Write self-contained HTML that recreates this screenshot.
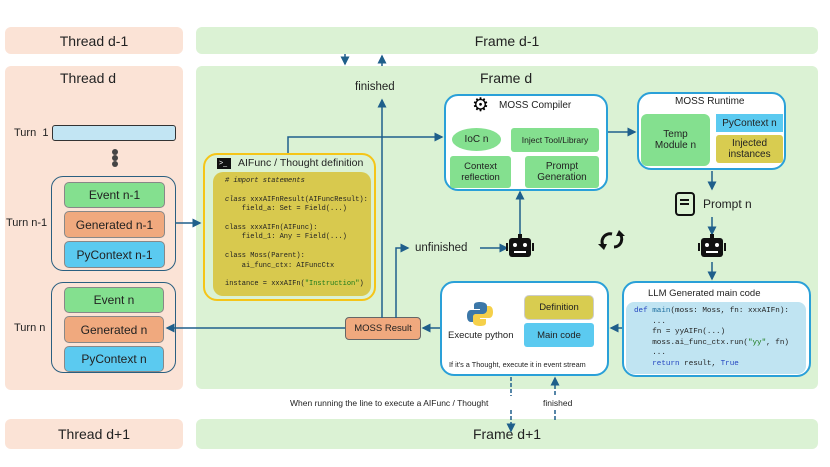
<!DOCTYPE html>
<html><head><meta charset="utf-8"><style>
body{margin:0;width:830px;height:467px;background:#fff;position:relative;overflow:hidden;font-family:"Liberation Sans",sans-serif;color:#222}
.a{position:absolute;box-sizing:border-box}
.c{display:flex;align-items:center;justify-content:center;text-align:center}
.th{background:#fbe3d6;border-radius:6px}
.fr{background:#dbf2d4;border-radius:6px}
.blk{border:1.5px solid #888;border-radius:5px;font-size:12px}
.g{background:#84e08f}.o{background:#f0a97e}.b{background:#5bcaf0}.y{background:#d8cc50}
.wb{background:#fff;border:2px solid #2aa0d8;border-radius:14px}
pre{margin:0;font-family:"Liberation Mono",monospace}
</style></head><body>
<div class="a th c" style="left:5px;top:27px;width:178px;height:27px;font-size:14px">Thread d-1</div>
<div class="a fr c" style="left:196px;top:27px;width:622px;height:27px;font-size:14px">Frame d-1</div>
<div class="a th" style="left:5px;top:66px;width:178px;height:324px"></div>
<div class="a fr" style="left:196px;top:66px;width:622px;height:323px"></div>
<div class="a th c" style="left:5px;top:419px;width:178px;height:30px;font-size:14px">Thread d+1</div>
<div class="a fr c" style="left:196px;top:419px;width:622px;height:30px;font-size:14px">Frame d+1</div>
<div class="a" style="left:60px;top:70px;font-size:14px">Thread d</div>
<div class="a" style="left:480px;top:70px;font-size:14px">Frame d</div>

<div class="a" style="left:14px;top:127px;font-size:11px">Turn&nbsp; 1</div>
<div class="a" style="left:52px;top:125px;width:124px;height:16px;background:#c2e5f3;border:1.5px solid #333;border-radius:3px"></div>
<div class="a" style="left:112px;top:149px;width:6px;height:6px;border-radius:3px;background:#444;box-shadow:0 6px 0 #444,0 12px 0 #444"></div>
<div class="a" style="left:6px;top:217px;font-size:11px">Turn n-1</div>
<div class="a" style="left:51px;top:176px;width:125px;height:95px;border:1.5px solid #2a5f80;border-radius:12px"></div>
<div class="a blk g c" style="left:64px;top:182px;width:101px;height:26px">Event n-1</div>
<div class="a blk o c" style="left:64px;top:211px;width:101px;height:27px">Generated n-1</div>
<div class="a blk b c" style="left:64px;top:241px;width:101px;height:27px">PyContext n-1</div>
<div class="a" style="left:14px;top:322px;font-size:11px">Turn n</div>
<div class="a" style="left:51px;top:282px;width:125px;height:91px;border:1.5px solid #2a5f80;border-radius:12px"></div>
<div class="a blk g c" style="left:64px;top:287px;width:100px;height:26px">Event n</div>
<div class="a blk o c" style="left:64px;top:316px;width:100px;height:27px">Generated n</div>
<div class="a blk b c" style="left:64px;top:346px;width:100px;height:26px">PyContext n</div>

<!-- AIFunc -->
<div class="a" style="left:203px;top:153px;width:173px;height:148px;border:2px solid #f5c518;border-radius:14px;background:#dbf2d4"></div>
<div class="a" style="left:217px;top:158px;width:14px;height:11px;background:#111;color:#fff;font-size:7px;line-height:11px;padding-left:2px">&gt;_</div>
<div class="a" style="left:238px;top:157px;font-size:10.5px">AIFunc / Thought definition</div>
<div class="a" style="left:213px;top:172px;width:158px;height:124px;background:#d8c94e;border-radius:10px;padding:5px 0 0 12px">
<pre style="font-size:7px;line-height:9.4px"><i># import statements</i>

<i>class</i> xxxAIFnResult(AIFuncResult):
    field_a: Set = Field(...)

class xxxAIFn(AIFunc):
    field_1: Any = Field(...)

class Moss(Parent):
    ai_func_ctx: AIFuncCtx

instance = xxxAIFn(<span style="color:#1a7a1a">"Instruction"</span>)</pre></div>

<!-- compiler -->
<div class="a wb" style="left:444px;top:94px;width:164px;height:97px"></div>
<div class="a" style="left:472px;top:94px;font-size:19px;color:#000">⚙</div>
<div class="a" style="left:499px;top:100px;font-size:10px">MOSS Compiler</div>
<div class="a g c" style="left:452px;top:128px;width:49px;height:23px;border-radius:50%;font-size:10px">IoC n</div>
<div class="a g c" style="left:511px;top:128px;width:88px;height:24px;border-radius:3px;font-size:8.5px">Inject Tool/Library</div>
<div class="a g c" style="left:450px;top:156px;width:61px;height:32px;border-radius:3px;font-size:9.5px">Context<br>reflection</div>
<div class="a g c" style="left:525px;top:156px;width:74px;height:32px;border-radius:3px;font-size:10px">Prompt<br>Generation</div>

<!-- runtime -->
<div class="a wb" style="left:637px;top:92px;width:149px;height:78px"></div>
<div class="a" style="left:675px;top:96px;font-size:10px">MOSS Runtime</div>
<div class="a g c" style="left:641px;top:114px;width:69px;height:52px;border-radius:6px;font-size:10px">Temp<br>Module n</div>
<div class="a b c" style="left:716px;top:114px;width:67px;height:18px;font-size:10px">PyContext n</div>
<div class="a y c" style="left:716px;top:135px;width:67px;height:28px;border-radius:3px;font-size:10px">Injected<br>instances</div>

<div class="a" style="left:675px;top:192px;width:20px;height:24px;border:2.5px solid #111;border-radius:4px"></div>
<div class="a" style="left:680px;top:199px;width:9px;height:2px;background:#111;box-shadow:0 4px 0 #111"></div>
<div class="a" style="left:703px;top:197px;font-size:12px">Prompt n</div>

<!-- LLM box -->
<div class="a wb" style="left:622px;top:281px;width:189px;height:96px"></div>
<div class="a" style="left:648px;top:288px;font-size:9.5px">LLM Generated main code</div>
<div class="a" style="left:626px;top:302px;width:180px;height:72px;background:#c0e4f2;border-radius:8px;padding:4px 0 0 8px">
<pre style="font-size:7.6px;line-height:10.5px"><span style="color:#2445c0">def</span> <span style="color:#2070a0">main</span>(moss: Moss, fn: xxxAIFn):
    ...
    fn = yyAIFn(...)
    moss.ai_func_ctx.run(<span style="color:#1a7a1a">"yy"</span>, fn)
    ...
    <span style="color:#2445c0">return</span> result, <span style="color:#2445c0">True</span></pre></div>

<!-- execute -->
<div class="a wb" style="left:440px;top:281px;width:169px;height:95px"></div>
<svg class="a" style="left:466px;top:300px" width="28" height="28" viewBox="0 0 28 28"><path d="M14 2c-6 0-6 2-6 4v3h6v1H5c-3 0-4 3-4 6s1 6 4 6h2v-4c0-2 2-4 4-4h7c2 0 3-1 3-3V6c0-2-2-4-7-4z" fill="#3b77a8"/><path d="M14 26c6 0 6-2 6-4v-3h-6v-1h9c3 0 4-3 4-6s-1-6-4-6h-2v4c0 2-2 4-4 4h-7c-2 0-3 1-3 3v5c0 2 2 4 7 4z" fill="#f5d04a"/></svg>
<div class="a" style="left:448px;top:330px;font-size:9.5px">Execute python</div>
<div class="a y c blk" style="left:524px;top:295px;width:70px;height:25px;border-color:#ccc;font-size:9.5px">Definition</div>
<div class="a b c" style="left:524px;top:323px;width:70px;height:24px;border-radius:3px;font-size:9.5px">Main code</div>
<div class="a" style="left:449px;top:360px;font-size:7.3px">If it's a Thought, execute it in event stream</div>

<div class="a o c" style="left:345px;top:317px;width:76px;height:23px;border:1.5px solid #666;border-radius:4px;font-size:9.5px">MOSS Result</div>

<div class="a" style="left:355px;top:81px;font-size:11.5px">finished</div>
<div class="a" style="left:415px;top:242px;font-size:11.5px">unfinished</div>
<div class="a" style="left:290px;top:398px;font-size:8.5px">When running the line to execute a AIFunc / Thought</div>
<div class="a" style="left:543px;top:398px;font-size:8.5px">finished</div>

<svg class="a" style="left:0;top:0" width="830" height="467">
<defs><marker id="m" markerWidth="6" markerHeight="6" refX="5" refY="3" orient="auto"><path d="M0,0L6,3L0,6z" fill="#1f5f8b"/></marker></defs>
<g stroke="#1f5f8b" stroke-width="1.5" fill="none" marker-end="url(#m)">
<path d="M345 54V64"/><path d="M382 66V56"/>
<path d="M382 318V100"/>
<path d="M176 223H200"/>
<path d="M288 153V137H442"/>
<path d="M396 318V248H408"/>
<path d="M480 248H507"/>
<path d="M520 235V192"/>
<path d="M608 132H635"/>
<path d="M712 171V189"/><path d="M712 217V234"/><path d="M712 262V279"/>
<path d="M622 328H611"/><path d="M440 328H423"/>
<path d="M345 328H167"/>
<path d="M511 377V396" stroke-dasharray="4 2" marker-end="none"/>
<path d="M511 410V431" stroke-dasharray="4 2"/>
<path d="M555 395V378" stroke-dasharray="4 2"/>
<path d="M555 410V420" stroke-dasharray="4 2" marker-end="none"/>
</g>
<!-- robots -->
<g fill="#111">
<rect x="509" y="238" width="22" height="19" rx="3"/><rect x="506" y="243" width="2" height="8"/><rect x="532" y="243" width="2" height="8"/><rect x="518" y="234" width="4" height="4"/>
<rect x="701" y="238" width="22" height="19" rx="3"/><rect x="698" y="243" width="2" height="8"/><rect x="724" y="243" width="2" height="8"/><rect x="710" y="234" width="4" height="4"/>
</g>
<g fill="#fff"><circle cx="515" cy="245" r="2"/><circle cx="525" cy="245" r="2"/><rect x="514" y="251" width="12" height="2"/>
<circle cx="707" cy="245" r="2"/><circle cx="717" cy="245" r="2"/><rect x="706" y="251" width="12" height="2"/></g>
<g stroke="#111" stroke-width="3" fill="none"><path d="M604 247a8 8 0 0 1 8-13"/><path d="M619 233a8 8 0 0 1-5 14"/></g>
<path d="M598 244l6 6 3-6z M625 236l-6-6-3 6z" fill="#111"/>
</svg>
</body></html>
